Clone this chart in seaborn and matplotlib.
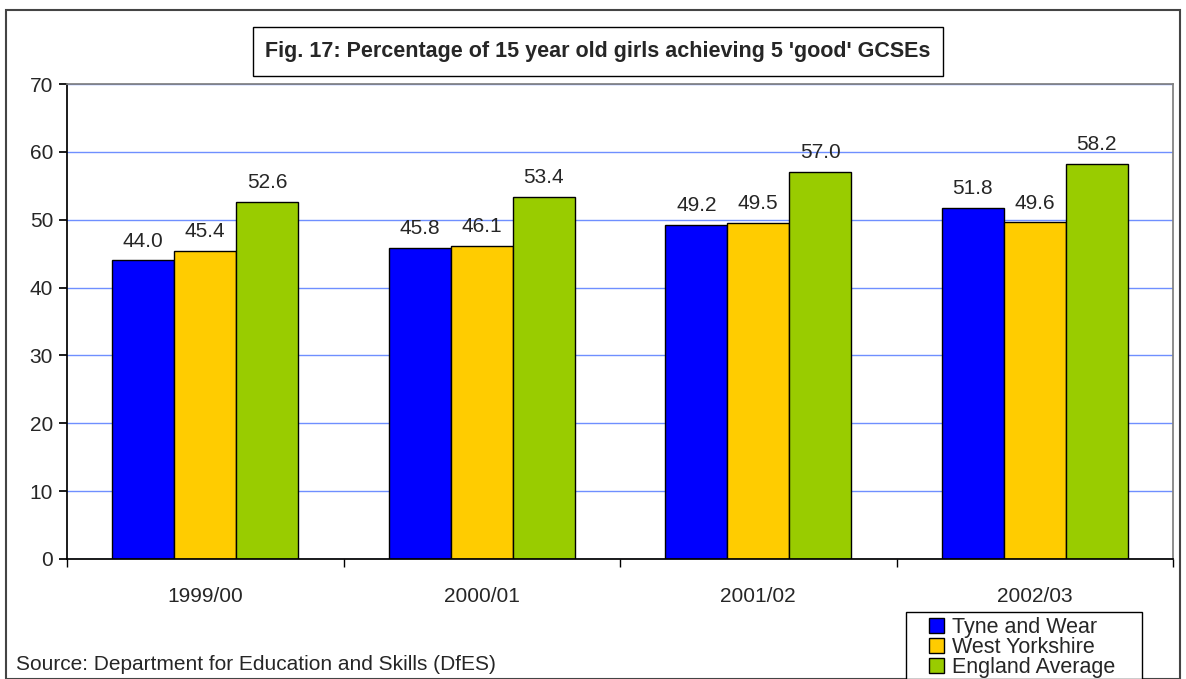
import numpy as np
import pandas as pd
import seaborn as sns
import matplotlib.pyplot as plt
from matplotlib.patches import Rectangle

years = ["1999/00", "2000/01", "2001/02", "2002/03"]
series = ["Tyne and Wear", "West Yorkshire", "England Average"]
tyne_wear = [44.0, 45.8, 49.2, 51.8]
west_yorks = [45.4, 46.1, 49.5, 49.6]
england = [52.6, 53.4, 57.0, 58.2]
colours = ["#0000FF", "#FFCC00", "#99CC00"]

df = pd.DataFrame({
    "year": years * 3,
    "area": np.repeat(series, len(years)),
    "pct": tyne_wear + west_yorks + england,
})

sns.set_theme(style="white")
plt.rcParams['font.family'] = ['Liberation Sans', 'DejaVu Sans']

W, H = 1186, 679
fs = 15

fig = plt.figure(figsize=(W/100, H/100), dpi=100)
ax = fig.add_axes([67/W, 1 - 559/H, (1173-67)/W, (559-84)/H])

sns.barplot(data=df, x="year", y="pct", hue="area", palette=colours,
            width=0.672, gap=0, edgecolor="black", linewidth=1, saturation=1,
            ax=ax, legend=False)

for c in ax.containers:
    ax.bar_label(c, fmt="%.1f", padding=7, fontsize=fs)

ax.set_ylim(0, 70)
ax.set_xlim(-0.5, 3.5)
ax.set_yticks(range(0, 71, 10))
ax.set_yticklabels([str(v) for v in range(0, 71, 10)], fontsize=fs)
ax.set_xticks(range(4))
ax.set_xticklabels(years, fontsize=fs)
ax.tick_params(axis="x", length=0, pad=20)
ax.tick_params(axis="y", left=True, length=6, direction="out", color="black", pad=4)
# ticks at the category boundaries
ax.set_xticks([-0.5, 0.5, 1.5, 2.5, 3.5], minor=True)
ax.tick_params(axis="x", which="minor", bottom=True, length=6, direction="out", color="black")
ax.set_xlabel("")
ax.set_ylabel("")
ax.yaxis.grid(True, color="#6F8FFF", linewidth=1)
ax.set_axisbelow(True)
ax.spines["left"].set_color("black")
ax.spines["bottom"].set_color("black")
ax.spines["top"].set_color("#808080")
ax.spines["right"].set_color("#808080")

# outer border
fig.patches.append(Rectangle((6/W, 0), 1174/W, 1 - 10/H, transform=fig.transFigure,
                             fill=False, edgecolor="#444444", linewidth=1.5))

# title box
fig.patches.append(Rectangle((253/W, 1 - 76/H), 690/W, 49/H, transform=fig.transFigure,
                             facecolor="white", edgecolor="black", linewidth=1))
fig.text(598/W, 1 - 51/H, "Fig. 17: Percentage of 15 year old girls achieving 5 'good' GCSEs",
         ha="center", va="center", fontsize=15.5, fontweight="bold")

fig.text(16/W, 1 - 665/H, "Source: Department for Education and Skills (DfES)",
         ha="left", va="center", fontsize=fs)

# legend
fig.patches.append(Rectangle((906/W, 0), 236/W, 1 - 611/H - 0.0015, transform=fig.transFigure,
                             facecolor="white", edgecolor="black", linewidth=1))
handles = [Rectangle((0, 0), 1, 1, facecolor=c, edgecolor="black") for c in colours]
fig.legend(handles, series, loc="upper left", bbox_to_anchor=(929/W, 1 - 617/H),
           fontsize=15.5, frameon=False,
           handlelength=0.7, handleheight=0.7, handletextpad=0.35,
           labelspacing=-0.05, borderpad=0, borderaxespad=0)

fig.savefig("out.png", dpi=100)
